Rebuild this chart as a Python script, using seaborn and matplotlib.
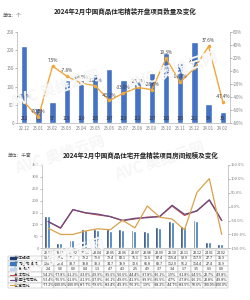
import numpy as np
import pandas as pd
import matplotlib
matplotlib.use("Agg")
import matplotlib.pyplot as plt
import seaborn as sns

months = ["22.12", "23.01", "23.02", "23.03", "23.04", "23.05", "23.06", "23.07",
          "23.08", "23.09", "23.10", "23.11", "23.12", "24.01", "24.02"]

# top chart: number of projects and YoY change
projects = [212, 41, 57, 119, 119, 135, 147, 119, 112, 137, 192, 165, 221, 54, 30]
projects_yoy = [-47.9, -70.5, 7.5, -7.8, -18.5, -22.4, -45.1, -33.9, -25.1, -28.6,
                19.3, -17.1, 4.2, 37.6, -47.4]

# bottom chart: room scale (thousand units) and YoY change
total_scale = [137.1, 22.4, 33.7, 79.2, 79.6, 79.4, 83.1, 75.1, 71.6, 87.4, 115.4, 92.9, 117.9, 27.7, 16.9]
ordinary_scale = [134.7, 22.4, 33.7, 78.8, 78.3, 74.7, 78.9, 72.6, 66.8, 83.7, 112.0, 91.2, 114.4, 27.4, 16.9]
apartment_scale = [2.4, 0.0, 0.0, 0.4, 1.3, 4.7, 4.3, 2.5, 4.9, 3.7, 3.4, 1.7, 3.5, 0.3, 0.0]
total_yoy = [-54.2, -77.8, -11.2, -23.0, -29.9, -35.6, -50.6, -44.4, -37.8, -36.1,
             1.9, -31.8, -14.5, 23.7, -49.8]
ordinary_yoy = [-53.4, -76.5, -11.0, -21.9, -27.0, -36.1, -49.6, -41.9, -39.9, -35.5,
                4.7, -27.8, -16.1, 23.8, -49.8]
apartment_yoy = [-77.2, -100.0, -100.0, -87.7, -79.6, -83.4, -49.3, -76.3, 1.9, -38.2,
                 -44.7, -83.5, 50.6, 100.0, -100.0]

row_names = ["总体规模", "普通住宅规模", "公寓规模", "总体同比", "普通住宅同比", "公寓同比"]

sns.set_style("white")
plt.rcParams["font.family"] = ["Noto Sans CJK SC", "DejaVu Sans"]
plt.rcParams["axes.unicode_minus"] = False

fig = plt.figure(figsize=(2.51, 3.0), dpi=100)
grey = "#7f7f7f"
blue = "#4472C4"
orange = "#F0A73C"

# watermarks (faint)
for wx, wy in [(0.03, 0.64), (0.50, 0.70), (0.05, 0.42), (0.45, 0.40), (0.05, 0.08)]:
    fig.text(wx, wy, "AVC 奥维云网", fontsize=11, color="#f6f6f6", rotation=18,
             fontweight="bold", zorder=0)

# ---------------- top chart ----------------
ax1 = fig.add_axes([0.068, 0.589, 0.848, 0.305])
ax1.patch.set_alpha(0)
sns.barplot(x=months, y=projects, color=blue, width=0.45, saturation=1, ax=ax1)
ax1.set_ylim(0, 250)
ax1.set_yticks(range(0, 251, 50))
for i, v in enumerate(projects):
    ax1.text(i, 13, str(v), ha="center", va="center", fontsize=3.2, color="#333333")

ax1b = ax1.twinx()
sns.lineplot(x=months, y=projects_yoy, sort=False, color=orange, linewidth=1.0,
             marker="o", markersize=2.6, markeredgewidth=0, ax=ax1b)
ax1b.set_ylim(-80, 60)
ax1b.set_yticks(range(-80, 61, 20))
ax1b.set_yticklabels([f"{t}%" for t in range(-80, 61, 20)])
for i, v in enumerate(projects_yoy):
    ax1b.text(i, v + 4.5, f"{v:.1f}%", ha="center", va="bottom", fontsize=3.3, color="#404040")

for a in (ax1, ax1b):
    a.tick_params(axis="both", labelsize=3.2, colors=grey, length=1.2, width=0.4, pad=1)
    for s in a.spines.values():
        s.set_color("#bfbfbf")
        s.set_linewidth(0.4)
    a.spines["top"].set_visible(False)
ax1.set_xlim(-0.5, 14.5)

fig.text(0.5, 0.962, "2024年2月中国商品住宅精装开盘项目数量及变化", ha="center", va="center",
         fontsize=4.7, fontweight="bold", color="#262626")
fig.text(0.012, 0.948, "单位：个", ha="left", va="center", fontsize=3.4, color="#595959")

# ---------------- bottom chart ----------------
ax2 = fig.add_axes([0.167, 0.172, 0.741, 0.279])
ax2.patch.set_alpha(0)
scale_df = pd.DataFrame({
    "month": months * 3,
    "value": total_scale + ordinary_scale + apartment_scale,
    "series": [row_names[0]] * 15 + [row_names[1]] * 15 + [row_names[2]] * 15,
})
bar_colors = ["#1F3D6E", "#3A78BD", "#BDD4EE"]
sns.barplot(data=scale_df, x="month", y="value", hue="series", palette=bar_colors,
            width=0.7, saturation=1, legend=False, ax=ax2)
ax2.set_ylim(0, 350)
ax2.set_yticks(range(0, 351, 50))
ax2.set_xlim(-0.5, 14.5)
ax2.set_xlabel("")
ax2.set_ylabel("")
ax2.set_xticks([])

ax2b = ax2.twinx()
line_colors = ["#C0504D", "#6B4A86", "#D9A24A"]
for vals, c in zip([total_yoy, ordinary_yoy, apartment_yoy], line_colors):
    sns.lineplot(x=months, y=vals, sort=False, color=c, linewidth=0.9, ax=ax2b)
ax2b.set_ylim(-150, 150)
ax2b.set_yticks(range(-150, 151, 50))
ax2b.set_yticklabels([f"{t:.1f}%" for t in range(-150, 151, 50)])

for a in (ax2, ax2b):
    a.tick_params(axis="y", labelsize=3.0, colors=grey, length=1.2, width=0.4, pad=1)
    for s in a.spines.values():
        s.set_color("#bfbfbf")
        s.set_linewidth(0.4)
    a.spines["top"].set_visible(False)

fig.text(0.56, 0.483, "2024年2月中国商品住宅开盘精装项目房间规模及变化", ha="center", va="center",
         fontsize=4.7, fontweight="bold", color="#262626")
fig.text(0.03, 0.481, "单位：千套", ha="left", va="center", fontsize=3.4, color="#595959")

# data table under the bottom chart
cell_rows = []
for name, vals in zip(row_names[:3], [total_scale, ordinary_scale, apartment_scale]):
    cell_rows.append(["      " + name] + [f"{v:.1f}" for v in vals])
for name, vals in zip(row_names[3:], [total_yoy, ordinary_yoy, apartment_yoy]):
    cell_rows.append(["      " + name] + [f"{v:.1f}%" for v in vals])

lab_w = 34 / 186
tbl = ax2.table(cellText=cell_rows, colLabels=[""] + months,
                colWidths=[34] + [12.4] * 15, cellLoc="center",
                bbox=[-lab_w, -0.475, 1 + lab_w, 0.455])
tbl.auto_set_font_size(False)
for (r, c), cell in tbl.get_celld().items():
    cell.set_linewidth(0.3)
    cell.set_edgecolor("#a6a6a6")
    cell.set_text_props(fontsize=2.6, color="#262626")
    if c == 0:
        cell.set_text_props(ha="left", fontsize=2.8)
        cell._loc = "left"
        cell.PAD = 0.02
    if r == 0 and c == 0:
        cell.set_linewidth(0)

row_h = 0.455 / 7
key_colors = bar_colors + line_colors
for k, c in enumerate(key_colors):
    yc = -0.02 - (k + 1.5) * row_h
    if k < 3:
        ax2.add_patch(plt.Rectangle((-0.172, yc - 0.015), 0.032, 0.03, color=c,
                                    transform=ax2.transAxes, clip_on=False))
    else:
        ax2.plot([-0.172, -0.14], [yc, yc], color=c, linewidth=0.9,
                 transform=ax2.transAxes, clip_on=False)

fig.savefig("out.png", dpi=100)
